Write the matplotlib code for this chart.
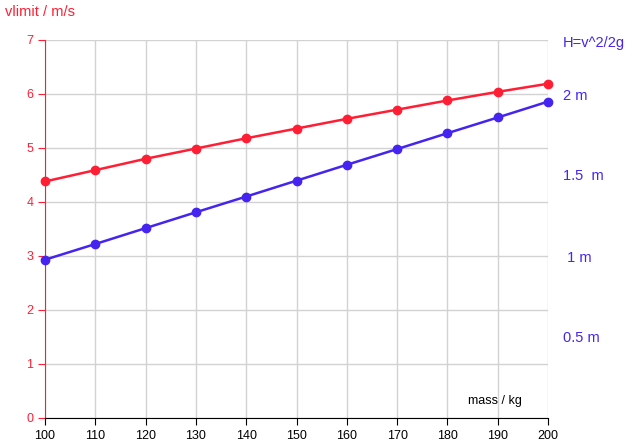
import matplotlib
matplotlib.use("Agg")
import matplotlib.pyplot as plt

plt.rcParams['font.family'] = ['Liberation Sans', 'DejaVu Sans']

# data
mass = [100, 110, 120, 130, 140, 150, 160, 170, 180, 190, 200]
vlimit = [4.38, 4.59, 4.80, 4.99, 5.18, 5.36, 5.54, 5.71, 5.88, 6.04, 6.19]
height = [0.977, 1.074, 1.172, 1.270, 1.367, 1.465, 1.563, 1.660, 1.758, 1.855, 1.953]
h_ticks = [0.5, 1.0, 1.5, 2.0]
h_labels = ['0.5 m', ' 1 m', '1.5  m', '2 m']

red = '#ff1f35'
blue = '#4624f0'

fig = plt.figure(figsize=(6.3, 4.47), dpi=100)
ax = fig.add_axes([45 / 630, 1 - 418 / 447, 503 / 630, 378 / 447])

ax.plot(mass, vlimit, color=red, lw=1.8, marker='o', ms=6, clip_on=False, zorder=4)

ax.set_xlim(100, 200)
ax.set_ylim(0, 7)
ax.set_xticks(range(100, 201, 10))
ax.set_yticks(range(0, 8))
ax.grid(True, color='#d2d2d2', lw=1)
ax.set_axisbelow(True)
for s in ['top', 'right']:
    ax.spines[s].set_visible(False)
ax.spines['left'].set_color(red)
ax.spines['bottom'].set_color('black')
ax.tick_params(axis='y', colors=red, labelsize=9, length=5)
ax.tick_params(axis='x', colors='black', labelsize=9, length=5)

# second scale for the height, same drawing area
ax2 = ax.twinx()
ax2.plot(mass, height, color=blue, lw=1.8, marker='o', ms=6, clip_on=False, zorder=4)
ax2.set_ylim(0, 7 / 3)
ax2.set_yticks(h_ticks)
ax2.set_yticklabels(h_labels)
ax2.tick_params(axis='y', colors=blue, labelsize=10.5, length=0, pad=11)
for s in ax2.spines.values():
    s.set_visible(False)

fig.text(5 / 630, 1 - 12 / 447, 'vlimit / m/s', color=red, fontsize=10.5, va='center')
fig.text(563 / 630, 1 - 43 / 447, 'H=v^2/2g', color=blue, fontsize=10.5, va='center')
ax.text(189.5, 0.31, 'mass / kg', fontsize=9, ha='center', va='center')

fig.savefig('out.png', dpi=100)
